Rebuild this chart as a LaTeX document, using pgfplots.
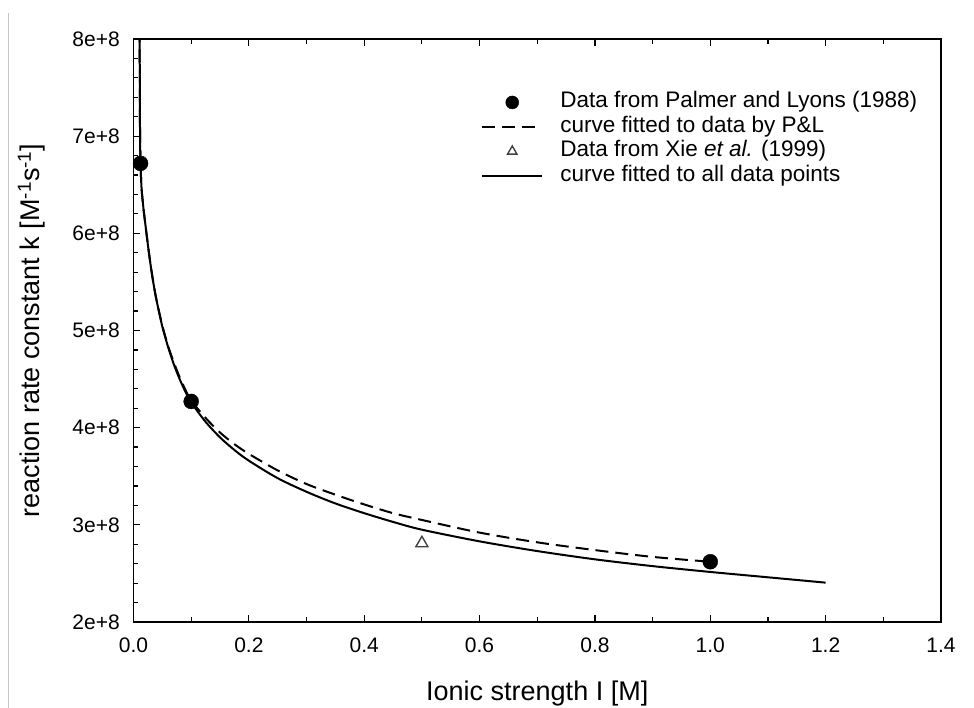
\documentclass[border=0pt]{standalone}
\usepackage{fontspec}
\setmainfont{Liberation Sans}
\usepackage{pgfplots}
\pgfplotsset{compat=1.18}
\newcommand{\lf}{\fontsize{22.5}{24}\selectfont}
\pgfplotsset{
  legline/.style={legend image code/.code={\draw[##1] (0pt,0pt) -- (60pt,0pt);}},
  legcirc/.style={legend image code/.code={\draw[##1, mark size=6.5pt] plot coordinates {(30pt,0pt)};}},
  legtri/.style={legend image code/.code={\draw[##1, mark size=5.5pt] plot coordinates {(30pt,0pt)};}},
}
\begin{document}
\begin{tikzpicture}[x=1pt,y=1pt]
\useasboundingbox (0,0) rectangle (974,708);
\draw[black!22, line width=1pt] (8,0) -- (8,695);
\begin{axis}[
  at={(133.5pt,86pt)}, anchor=south west,
  width=807.5pt, height=583pt, scale only axis,
  xmin=0, xmax=1.4, ymin=2, ymax=8,
  xtick={0,0.2,0.4,0.6,0.8,1.0,1.2,1.4},
  xticklabels={0.0,0.2,0.4,0.6,0.8,1.0,1.2,1.4},
  ytick={2,3,4,5,6,7,8},
  yticklabels={2e+8,3e+8,4e+8,5e+8,6e+8,7e+8,8e+8},
  minor x tick num=1, minor y tick num=4,
  tick align=inside, xtick pos=both, ytick pos=left,
  major tick length=7pt, minor tick length=5pt,
  every tick/.style={black, line width=1.2pt},
  axis line style={line width=1.6pt},
  ticklabel style={font=\fontsize{21}{24}\selectfont, inner sep=0pt},
  xticklabel style={anchor=base, yshift=-31pt},
  yticklabel style={anchor=east, xshift=-13.5pt},
  xlabel={Ionic strength I [M]},
  ylabel={reaction rate constant k [M\textsuperscript{-1}s\textsuperscript{-1}]},
  label style={font=\fontsize{27}{30}\selectfont},
  xlabel style={at={(axis description cs:0.5,-0.1338)}, anchor=base},
  ylabel style={at={(axis description cs:-0.1158,0.5)}, anchor=base},
  legend cell align=left,
  legend style={at={(axis description cs:0.4304,0.9108)}, anchor=north west,
    draw=none, fill=none, inner sep=0pt,
    font=\lf, row sep=2pt, column sep=16pt,
    nodes={font=\lf, text height=15.5pt, text depth=5pt, inner sep=1pt}},
]
\addplot[only marks, mark=*, mark size=7.5pt, black, legcirc]
  coordinates {(0.0122,6.72) (0.1,4.27) (1.0,2.62)};
\addlegendentry{\lf Data from Palmer and Lyons (1988)}
\addplot[black, line width=2pt, dash pattern=on 13pt off 7pt, smooth, legline]
  coordinates {
  (0.0107,8.10)(0.0109,7.60)(0.0112,7.15)(0.0117,6.85)(0.0125,6.66)
  (0.014,6.46)(0.017,6.27)(0.020,6.12)(0.025,5.88)(0.030,5.66)
  (0.035,5.47)(0.040,5.31)(0.050,5.05)(0.060,4.84)(0.070,4.67)
  (0.080,4.52)(0.090,4.39)(0.100,4.28)(0.125,4.10)(0.150,3.95)
  (0.175,3.83)(0.200,3.73)(0.250,3.56)(0.300,3.42)(0.350,3.31)
  (0.400,3.21)(0.450,3.12)(0.500,3.05)(0.600,2.92)(0.700,2.82)
  (0.800,2.74)(0.900,2.67)(1.000,2.62)};
\addlegendentry{\lf curve fitted to data by P\&L}
\addplot[only marks, mark=triangle, mark size=7pt, black!75,
  mark options={line width=1.4pt}, legtri]
  coordinates {(0.5,2.81)};
\addlegendentry{\lf Data from Xie \textit{et al.} (1999)}
\addplot[black, line width=2pt, smooth, legline]
  coordinates {
  (0.0107,8.10)(0.0109,7.60)(0.0112,7.15)(0.0117,6.85)(0.0125,6.66)
  (0.014,6.46)(0.017,6.27)(0.020,6.12)(0.025,5.88)(0.030,5.66)
  (0.035,5.47)(0.040,5.31)(0.050,5.04)(0.060,4.83)(0.070,4.65)
  (0.080,4.50)(0.090,4.37)(0.100,4.26)(0.125,4.06)(0.150,3.90)
  (0.175,3.77)(0.200,3.66)(0.250,3.48)(0.300,3.34)(0.350,3.22)
  (0.400,3.12)(0.450,3.03)(0.500,2.95)(0.600,2.83)(0.700,2.73)
  (0.800,2.645)(0.900,2.575)(1.000,2.515)(1.100,2.46)(1.200,2.405)};
\addlegendentry{\lf curve fitted to all data points}
\end{axis}
\end{tikzpicture}
\end{document}
